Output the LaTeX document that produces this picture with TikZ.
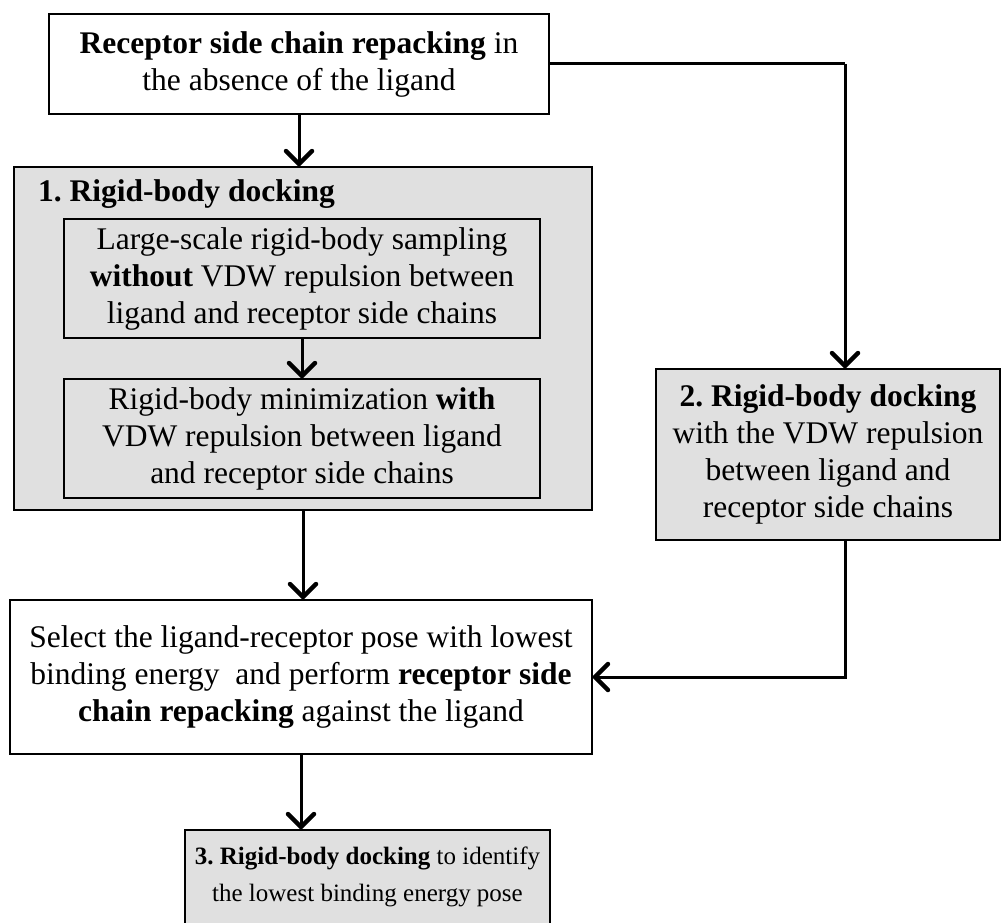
\documentclass[tikz,border=0pt]{standalone}
\usepackage{fontspec}
\setmainfont{Liberation Serif}
\usetikzlibrary{positioning}
\usetikzlibrary{calc}
\usetikzlibrary{arrows.meta}
\definecolor{boxgray}{RGB}{224,224,224}
\frenchspacing

\begin{document}
\begin{tikzpicture}[x=1pt, y=-1pt,
		box/.style={draw, line width=1.4pt, align=center, inner sep=0pt, font=\fontsize{31.5}{37}\selectfont},
		graybox/.style={box, fill=boxgray},
		arr/.style={line width=3pt, -{Straight Barb[length=13pt, width=26pt, line width=4.5pt, round]}},
		link/.style={line width=3pt}]
			\clip (0,0) rectangle (1001,923);
			\fill[white] (0,0) rectangle (1001,923);
			% Start
			\node[box, minimum width=500pt, minimum height=100pt] (top) at (299,64) {\textbf{Receptor side chain repacking} in\\the absence of the ligand};
			% Stage 1
			\node[graybox, minimum width=578pt, minimum height=343pt] (dock1) at (303,338.5) {};
			\node[anchor=north west, font=\fontsize{31.5}{37}\selectfont\bfseries, inner sep=0pt] (dock1lbl) at (38,179) {1. Rigid-body docking};
			\node[graybox, minimum width=476pt, minimum height=119pt] (sample) at (302,278.5) {Large-scale rigid-body sampling\\\textbf{without} VDW repulsion between\\ligand and receptor side chains};
			\node[graybox, minimum width=476pt, minimum height=119pt] (minim) at (302,438.5) {Rigid-body minimization \textbf{with}\\VDW repulsion between ligand\\and receptor side chains};
			% Stage 2
			\node[graybox, minimum width=344pt, minimum height=171pt] (dock2) at (828,454.5) {\textbf{2. Rigid-body docking}\\with the VDW repulsion\\between ligand and\\receptor side chains};
			% Selection
			\node[box, minimum width=582pt, minimum height=154pt] (select) at (301,677) {Select the ligand-receptor pose with lowest\\binding energy\ \ and perform \textbf{receptor side}\\\textbf{chain repacking} against the ligand};
			% Stage 3
			\node[graybox, minimum width=365pt, minimum height=94pt, font=\fontsize{25}{37}\selectfont] (dock3) at (367.5,877) {\textbf{3. Rigid-body docking} to identify\\the lowest binding energy pose};
			% Connections
			\coordinate (turn) at (845,64);
			\draw[arr] (top.south) -- (top.south |- dock1.north);
			\draw[arr] (sample.south) -- (minim.north);
			\draw[arr] (dock1.south) -- (dock1.south |- select.north);
			\draw[arr] (select.south) -- (select.south |- dock3.north);
			\draw[link] (top.east) -- (turn);
			\draw[arr] (turn) -- (turn |- dock2.north);
			\draw[arr] (turn |- dock2.south) |- (select.east);
		\end{tikzpicture}
\end{document}
